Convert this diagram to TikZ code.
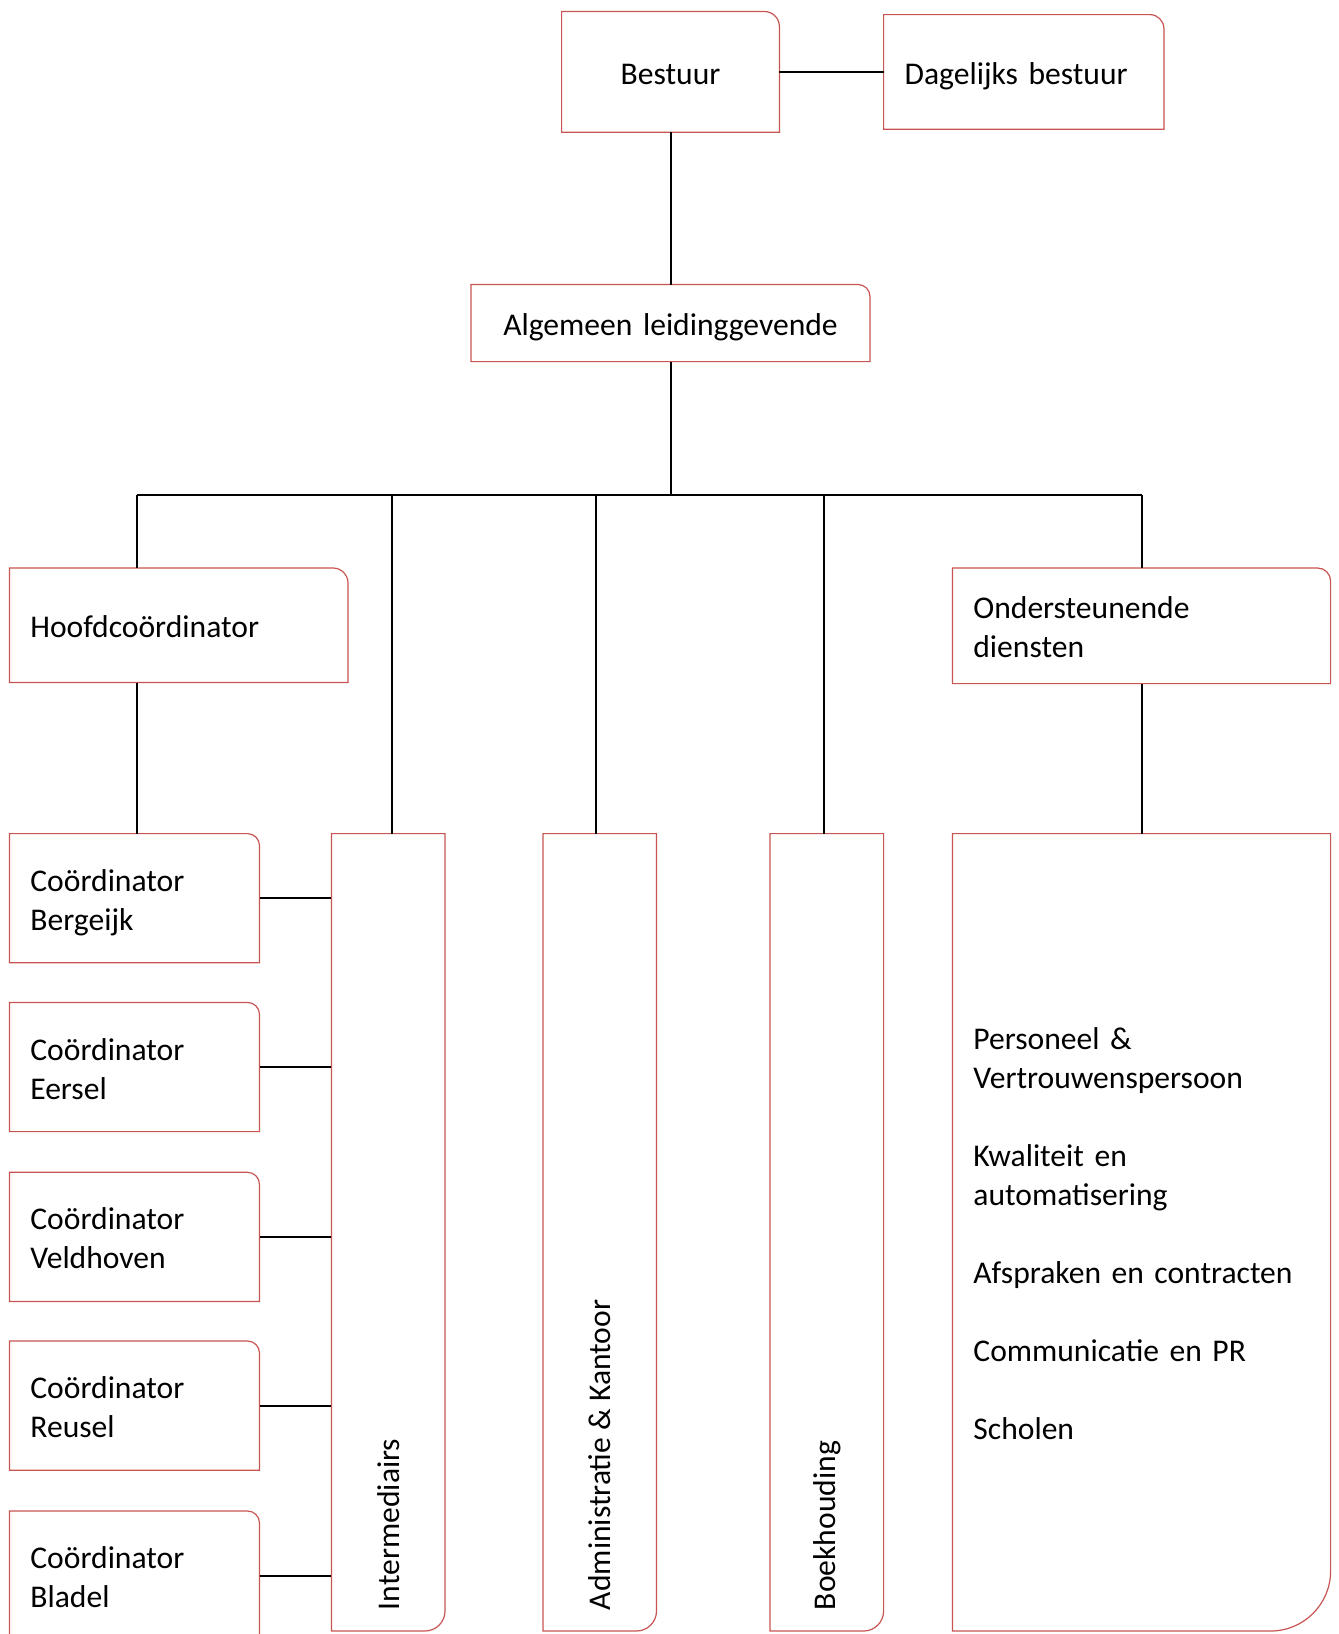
\documentclass[tikz,border=0pt]{standalone}
\usepackage{fontspec}
\setmainfont{Carlito}
\definecolor{bordc}{RGB}{200,85,82}
\tikzset{
  x=1pt, y=1pt,
  bx/.style={anchor=north west, inner xsep=21pt, inner ysep=0pt, outer sep=0pt,
             font=\fontsize{31.6}{39}\selectfont, align=left, text height=35pt, text depth=10pt},
  two/.style={text depth=49pt},
  bord/.style={draw=bordc, line width=1.2pt},
  conn/.style={line width=2pt, black},
  vlab/.style={rotate=90, anchor=west, inner sep=0pt, outer sep=0pt,
               font=\fontsize{31.6}{39}\selectfont}
}
\newcommand\outlineTR[2]{\draw[bord] (#1.south west) -- (#1.north west) -- ([xshift=-#2pt]#1.north east) arc[start angle=90,end angle=0,radius=#2pt] -- (#1.south east) -- cycle;}
\newcommand\outlineBR[2]{\draw[bord] (#1.north west) -- (#1.north east) -- ([yshift=#2pt]#1.south east) arc[start angle=0,end angle=-90,radius=#2pt] -- (#1.south west) -- cycle;}
\begin{document}
\begin{tikzpicture}
\path[use as bounding box, clip] (0,0) rectangle (1339,-1634);
\fill[white] (0,0) rectangle (1339,-1634);

% boxes
\node[bx, align=center, text width=175.8pt, minimum height=120.8pt] (bestuur) at (561.6,-11.5) {Bestuur};
\node[bx, text width=238.3pt, minimum height=114.6pt] (dagelijks) at (883.6,-14.6) {Dagelijks bestuur};
\node[bx, align=center, text width=357pt, minimum height=77.1pt] (algemeen) at (471,-284.5) {Algemeen leidinggevende};
\node[bx, text width=296.6pt, minimum height=114.5pt] (hoofd) at (9.4,-568) {Hoofdcoördinator};
\node[bx, two, text width=336.2pt, minimum height=115.6pt] (onder) at (952.4,-568) {Ondersteunende\\diensten};

\node[bx, two, text width=208.1pt, minimum height=129.2pt] (c1) at (9.4,-833.6) {Coördinator\\Bergeijk};
\node[bx, two, text width=208.1pt, minimum height=129.2pt] (c2) at (9.4,-1002.4) {Coördinator\\Eersel};
\node[bx, two, text width=208.1pt, minimum height=129.2pt] (c3) at (9.4,-1172.3) {Coördinator\\Veldhoven};
\node[bx, two, text width=208.1pt, minimum height=129.2pt] (c4) at (9.4,-1341) {Coördinator\\Reusel};
\node[bx, two, text width=208.1pt, minimum height=129.2pt] (c5) at (9.4,-1511) {Coördinator\\Bladel};

\node[bx, inner xsep=0pt, minimum width=113.6pt, minimum height=797.4pt] (inter) at (331.4,-833.6) {};
\node[bx, inner xsep=0pt, minimum width=113.5pt, minimum height=797.4pt] (admin) at (543,-833.6) {};
\node[bx, inner xsep=0pt, minimum width=113.6pt, minimum height=797.4pt] (boek) at (770,-833.6) {};
\node[bx, text depth=400pt, text width=336.2pt, minimum height=797.4pt] (big) at (952.4,-833.6)
  {Personeel \&\\Vertrouwenspersoon\\[39pt]Kwaliteit en\\automatisering\\[39pt]Afspraken en contracten\\[39pt]Communicatie en PR\\[39pt]Scholen};

\node[vlab] (interT) at ([yshift=21pt]inter.south) {Intermediairs};
\node[vlab] (adminT) at ([yshift=21pt]admin.south) {Administratie \& Kantoor};
\node[vlab] (boekT) at ([yshift=21pt]boek.south) {Boekhouding};

% outlines
\outlineTR{bestuur}{15}
\outlineTR{dagelijks}{14}
\outlineTR{algemeen}{12}
\outlineTR{hoofd}{15}
\outlineTR{onder}{13}
\outlineTR{c1}{12}
\outlineTR{c2}{12}
\outlineTR{c3}{12}
\outlineTR{c4}{12}
\outlineTR{c5}{12}
\outlineBR{inter}{20}
\outlineBR{admin}{20}
\outlineBR{boek}{20}
\outlineBR{big}{60}

% connectors
\coordinate (b1) at (136.5,-495);
\coordinate (b2) at (391.5,-495);
\coordinate (b3) at (596,-495);
\coordinate (b4) at (824.2,-495);
\coordinate (b5) at (1142,-495);
\coordinate (bm) at (670.5,-495);

\draw[conn] (bestuur.east) -- (bestuur.east -| dagelijks.west);
\draw[conn] (bestuur.south) -- (algemeen.north);
\draw[conn] (algemeen.south) -- (bm);
\draw[conn] (b1) -- (b5);
\draw[conn] (b1) -- (b1 |- hoofd.north);
\draw[conn] (b2) -- (b2 |- inter.north);
\draw[conn] (b3) -- (b3 |- admin.north);
\draw[conn] (b4) -- (b4 |- boek.north);
\draw[conn] (b5) -- (b5 |- onder.north);
\draw[conn] (hoofd.south -| b1) -- (c1.north -| b1);
\draw[conn] (onder.south -| b5) -- (big.north -| b5);
\foreach \c in {c1,c2,c3,c4,c5}{
  \draw[conn] (\c.east) -- (\c.east -| inter.west);
}
\end{tikzpicture}
\end{document}
